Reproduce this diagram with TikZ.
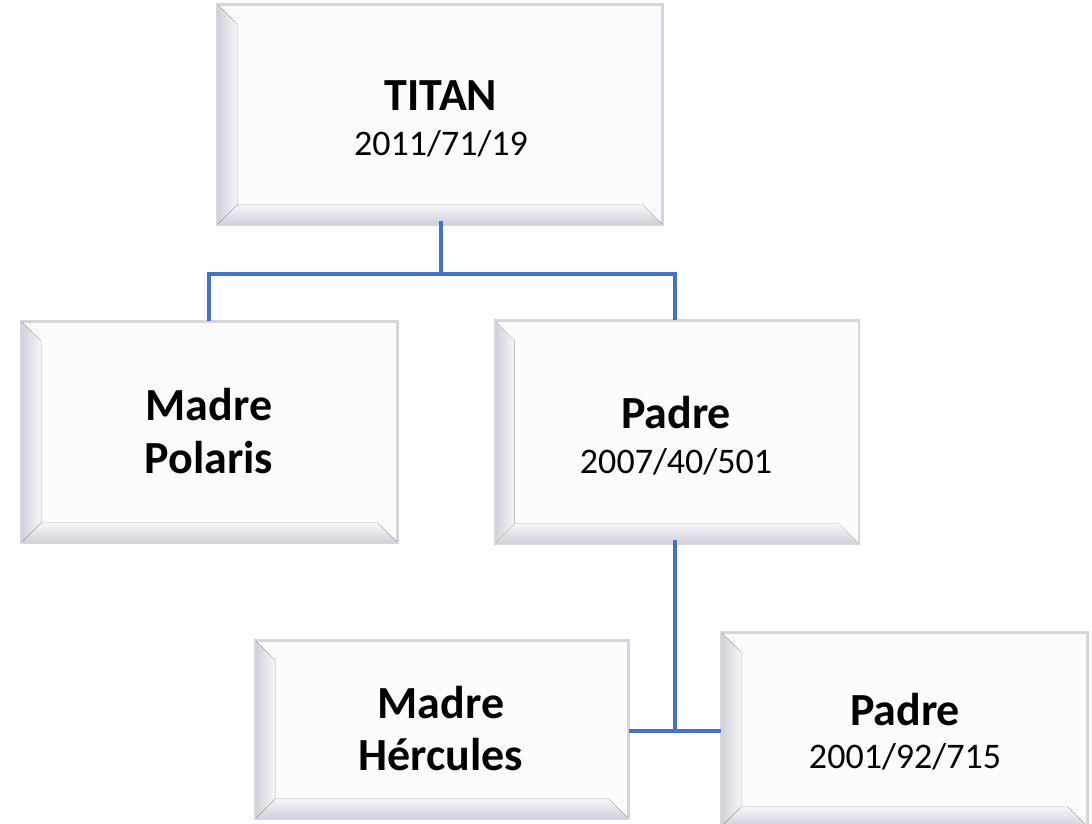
\documentclass[tikz,border=0pt]{standalone}
\usepackage{fontspec}
\setmainfont{Carlito}
\usetikzlibrary{calc}
\definecolor{linkblue}{HTML}{4472C4}
\definecolor{boxedge}{HTML}{D5D5DA}
\definecolor{boxfill}{HTML}{FCFCFE}
\definecolor{bevdark}{HTML}{CFCFD8}
\definecolor{bevlight}{HTML}{F6F6FA}
\tikzset{
  famkbox/.style={draw=boxedge, line width=1.8pt, fill=boxfill, rectangle, inner sep=0pt},
  boldtxt/.style={anchor=base, inner sep=0pt, font=\bfseries\fontsize{46}{55}\selectfont},
  datetxt/.style={anchor=base, inner sep=0pt, font=\fontsize{36}{43}\selectfont},
  linkline/.style={draw=linkblue, line width=3.2pt}
}
\newcommand{\famkbevel}[1]{%
  \fill[left color=bevdark, right color=bevlight]
    (#1.north west) -- ($(#1.north west)+(20,20)$) -- ($(#1.south west)+(20,-20)$) -- (#1.south west) -- cycle;
  \fill[bottom color=bevdark, top color=bevlight]
    (#1.south west) -- ($(#1.south west)+(20,-20)$) -- ($(#1.south east)+(-20,-20)$) -- (#1.south east) -- cycle;
  \draw[boxedge, line width=1.8pt] (#1.north west) rectangle (#1.south east);
}
\begin{document}
\begin{tikzpicture}[x=1pt, y=-1pt]
\useasboundingbox (0,0) rectangle (1092,823);
% boxes
\node[famkbox, minimum width=444pt, minimum height=219pt] (titan) at (440,114.5) {};
\node[famkbox, minimum width=375pt, minimum height=220pt] (polaris) at (209.5,432) {};
\node[famkbox, minimum width=363pt, minimum height=222pt] (padreA) at (677,432) {};
\node[famkbox, minimum width=372pt, minimum height=177pt] (hercules) at (442,729.5) {};
\node[famkbox, minimum width=365pt, minimum height=193pt] (padreB) at (904.5,729.5) {};
\famkbevel{titan}
\famkbevel{polaris}
\famkbevel{padreA}
\famkbevel{hercules}
\famkbevel{padreB}
% texts
\node[boldtxt] (t1) at (441,110) {TITAN};
\node[datetxt] (t2) at (441,155) {2011/71/19};
\node[boldtxt] (p1) at (209,420) {Madre};
\node[boldtxt] (p2) at (209,473) {Polaris};
\node[boldtxt] (a1) at (676,428) {Padre};
\node[datetxt] (a2) at (676,473) {2007/40/501};
\node[boldtxt] (h1) at (441,718) {Madre};
\node[boldtxt] (h2) at (441,770) {Hércules};
\node[boldtxt] (b1) at (905,725) {Padre};
\node[datetxt] (b2) at (905,768) {2001/92/715};
% connectors
\coordinate (jtop) at (441,274);
\coordinate (jl) at (209,274);
\coordinate (jr) at (675,274);
\draw[linkline] ([yshift=4pt]titan.south -| jtop) -- (jtop);
\draw[linkline] (polaris.north -| jl) -- (jl) -- (jr) -- (padreA.north -| jr);
\coordinate (jb) at (675,731);
\draw[linkline] ([yshift=4pt]padreA.south -| jb) -- (jb);
\draw[linkline] (hercules.east |- jb) -- (padreB.west |- jb);
\end{tikzpicture}
\end{document}
